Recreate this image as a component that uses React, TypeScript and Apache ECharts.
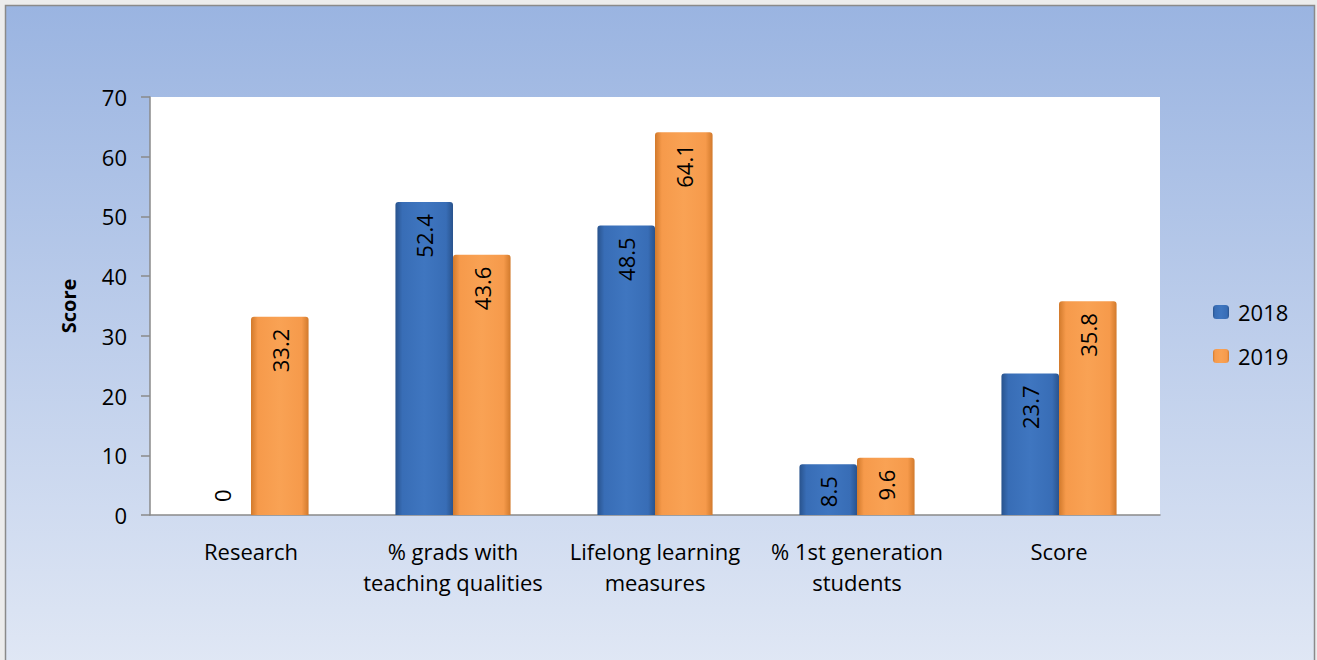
import React, { useEffect, useRef } from "react";
import * as echarts from "echarts";

const categories = [
  "Research",
  "% grads with\nteaching qualities",
  "Lifelong learning\nmeasures",
  "% 1st generation\nstudents",
  "Score",
];
const values2018 = [0, 52.4, 48.5, 8.5, 23.7];
const values2019 = [33.2, 43.6, 64.1, 9.6, 35.8];
const seriesNames = ["2018", "2019"];
const yTicks = { min: 0, max: 70, interval: 10 };

const FONT = "'Open Sans', 'Noto Sans', sans-serif";

const blueFill = new echarts.graphic.LinearGradient(0, 0, 1, 0, [
  { offset: 0, color: "#29538d" },
  { offset: 0.12, color: "#386db6" },
  { offset: 0.5, color: "#3f76c0" },
  { offset: 0.88, color: "#386db6" },
  { offset: 1, color: "#29538d" },
]);
const orangeFill = new echarts.graphic.LinearGradient(0, 0, 1, 0, [
  { offset: 0, color: "#d27a2c" },
  { offset: 0.12, color: "#f69a4b" },
  { offset: 0.5, color: "#f9a254" },
  { offset: 0.88, color: "#f69a4b" },
  { offset: 1, color: "#d27a2c" },
]);

const labelBase = {
  show: true,
  position: "insideTop" as const,
  rotate: 90,
  align: "right" as const,
  verticalAlign: "middle" as const,
  distance: 12,
  fontSize: 22,
  fontFamily: FONT,
  color: "#000",
};

function toData(vals: number[]) {
  return vals.map((v) =>
    v === 0
      ? { value: v, label: { position: "top", align: "left", distance: 13 } }
      : { value: v }
  );
}

export default function App() {
  const ref = useRef<HTMLDivElement>(null);
  useEffect(() => {
    if (!ref.current) return;
    const chart = echarts.init(ref.current, null, { renderer: "svg" });
    chart.setOption({
      animation: false,
      backgroundColor: "#ececec",
      graphic: {
        elements: [
          {
            type: "rect",
            z: -10,
            silent: true,
            shape: { x: 5.5, y: 5.5, width: 1309, height: 670 },
            style: {
              fill: new echarts.graphic.LinearGradient(0, 0, 0, 1, [
                { offset: 0, color: "#9ab4e1" },
                { offset: 1, color: "#e1e8f5" },
              ]),
              stroke: "#8a8a8a",
              lineWidth: 1.5,
            },
          },
        ],
      },
      grid: {
        left: 150,
        right: 157,
        top: 97,
        bottom: 145,
        show: true,
        backgroundColor: "#ffffff",
        borderWidth: 0,
      },
      legend: {
        orient: "vertical",
        left: 1213,
        top: 301,
        padding: 0,
        itemWidth: 16,
        itemHeight: 14,
        itemGap: 22,
        textStyle: {
          fontSize: 22,
          fontFamily: FONT,
          color: "#000",
          padding: [0, 0, 0, 4],
        },
        data: seriesNames,
      },
      xAxis: {
        type: "category",
        data: categories,
        axisLine: { lineStyle: { color: "#8a8a8a", width: 1.5 } },
        axisTick: { show: false },
        axisLabel: {
          fontSize: 22,
          fontFamily: FONT,
          color: "#000",
          margin: 20,
          lineHeight: 31,
          interval: 0,
        },
      },
      yAxis: {
        type: "value",
        min: yTicks.min,
        max: yTicks.max,
        interval: yTicks.interval,
        name: "Score",
        nameLocation: "middle",
        nameGap: 72,
        nameTextStyle: {
          fontSize: 20,
          fontWeight: "bold",
          fontFamily: FONT,
          color: "#000",
        },
        axisLine: { show: true, lineStyle: { color: "#8a8a8a", width: 1.5 } },
        axisTick: {
          show: true,
          length: 9,
          lineStyle: { color: "#8a8a8a", width: 1.5 },
        },
        splitLine: { show: false },
        axisLabel: {
          fontSize: 22,
          fontFamily: FONT,
          color: "#000",
          margin: 23,
        },
      },
      series: [
        {
          name: seriesNames[0],
          type: "bar",
          data: toData(values2018),
          barGap: "0%",
          barCategoryGap: "43%",
          itemStyle: { color: blueFill, borderRadius: [3, 3, 0, 0] },
          label: labelBase,
        },
        {
          name: seriesNames[1],
          type: "bar",
          data: toData(values2019),
          barGap: "0%",
          barCategoryGap: "43%",
          itemStyle: { color: orangeFill, borderRadius: [3, 3, 0, 0] },
          label: labelBase,
        },
      ],
    });
    return () => chart.dispose();
  }, []);
  return (
    <div
      ref={ref}
      style={{ position: "fixed", left: 0, top: 0, width: 1317, height: 660 }}
    />
  );
}
